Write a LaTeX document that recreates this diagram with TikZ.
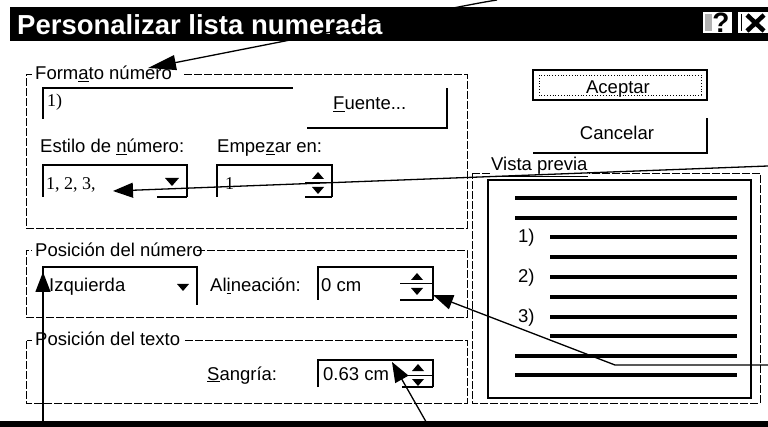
\documentclass[tikz,border=0pt]{standalone}
\usepackage{fontspec}
\setmainfont{Liberation Sans}
\newfontfamily\serf{Liberation Serif}
\usetikzlibrary{arrows.meta}
\newcommand{\mn}[1]{\underline{#1}}
\tikzset{
  grp/.style={draw, line width=0.9pt, dash pattern=on 8pt off 2pt},
  lbl/.style={font=\fontsize{18.5}{20}\selectfont, anchor=base west, inner sep=0pt},
  fld/.style={font=\serf\fontsize{18}{20}\selectfont, anchor=base west, inner sep=0pt},
  edge3d/.style={line width=1.8pt},
  ptr/.style={line width=1.3pt, -{Triangle[length=20pt,width=15pt]}},
  pline/.style={line width=4pt},
  tri/.style={fill=black}
}
\begin{document}
\begin{tikzpicture}[x=1pt,y=-1pt]
\useasboundingbox (0,0) rectangle (768,427);
\fill[white] (0,0) rectangle (768,427);
% title bar
\fill[black] (10,7) rectangle (768,41);
\node[anchor=base west, inner sep=0pt, text=white, font=\bfseries\fontsize{27.5}{30}\selectfont] (title) at (17,35) {Personalizar lista numerada};
\fill[white] (703,12) rectangle (732,33);
\fill[gray!60] (705,14) rectangle (712,31);
\node[inner sep=0pt, font=\bfseries\fontsize{28}{30}\selectfont] (help) at (721,23) {?};
\fill[white] (738,12) rectangle (768,33);
\draw[line width=4.5pt] (747,15) -- (764,31) (764,15) -- (747,31);
\draw[line width=1pt] (741,14) -- (741,31);
% Formato numero group
\node[lbl] (fmt) at (35,80) {Form\mn{a}to número};
\draw[grp] (184,74) -- (467,74) -- (467,228) -- (26,228) -- (26,74) -- (32,74);
\draw[edge3d] (43,119) -- (43,88) -- (293,88);
\node[fld] (f1) at (47,107) {1)};
\draw[edge3d] (307,128) -- (447,128) -- (447,88);
\node[lbl] (fuente) at (333,110) {\mn{F}uente...};
\node[lbl] (estilo) at (40,153) {Estilo de \mn{n}úmero:};
\node[lbl] (empez) at (217,153) {Empe\mn{z}ar en:};
\draw[edge3d] (43,197) -- (43,165) -- (187,165) -- (187,197);
\draw[edge3d] (157,197) -- (187,197);
\fill[tri] (165,178) -- (179,178) -- (172,186) -- cycle;
\node[fld] (style123) at (46,190) {1, 2, 3,};
\draw[edge3d] (217,197) -- (217,165) -- (332,165) -- (332,197);
\draw[edge3d] (305,197) -- (332,197);
\draw[line width=1pt] (305,183) -- (332,183);
\fill[tri] (312,179) -- (324,179) -- (318,172) -- cycle;
\fill[tri] (312,187) -- (324,187) -- (318,194) -- cycle;
\node[fld] (start1) at (225,190) {1};
% Posicion del numero group
\node[lbl] (posnum) at (35,257) {Posición del número};
\draw[grp] (197,250) -- (467,250) -- (467,317) -- (26,317) -- (26,250) -- (32,250);
\draw[edge3d] (43,305) -- (43,267) -- (197,267) -- (197,305);
\fill[tri] (177,284) -- (189,284) -- (183,291) -- cycle;
\node[lbl] (izq) at (49,292) {Izquierda};
\node[lbl] (alin) at (210,292) {Al\mn{i}neación:};
\draw[edge3d] (318,300) -- (318,267) -- (433,267) -- (433,300);
\draw[edge3d] (400,300) -- (433,300);
\draw[line width=1pt] (400,284) -- (433,284);
\fill[tri] (411,280) -- (423,280) -- (417,273) -- cycle;
\fill[tri] (411,288) -- (423,288) -- (417,295) -- cycle;
\node[lbl] (zero) at (321,292) {0 cm};
% Posicion del texto group
\node[lbl] (postxt) at (35,345) {Posición del texto};
\draw[grp] (185,340) -- (467,340) -- (467,403) -- (26,403) -- (26,340) -- (32,340);
\node[lbl] (sang) at (207,380) {\mn{S}angría:};
\draw[edge3d] (318,387) -- (318,360) -- (433,360) -- (433,387);
\draw[edge3d] (402,387) -- (433,387);
\draw[line width=1pt] (402,375) -- (433,375);
\fill[tri] (412,371) -- (424,371) -- (418,364) -- cycle;
\fill[tri] (412,379) -- (424,379) -- (418,386) -- cycle;
\node[lbl] (sval) at (323,380) {0.63 cm};
% buttons
\draw[line width=2.5pt] (533,70) rectangle (707,100);
\draw[line width=0.8pt, dotted] (539,75) rectangle (701,95);
\node[lbl, anchor=base] (acep) at (618,94) {Aceptar};
\draw[line width=2.5pt] (533,153) -- (707,153) -- (707,118);
\node[lbl, anchor=base] (canc) at (617,140) {Cancelar};
% Vista previa group
\draw[grp] (472,173) -- (760,173) -- (760,403) -- (472,403) -- cycle;
\node[lbl, fill=white, inner xsep=1pt] (vista) at (490,171) {\mn{Vista previa}};
\draw[line width=2pt] (488,180) rectangle (751,398);
\foreach \yy in {198,218,356,375} \draw[pline] (515,\yy) -- (737,\yy);
\foreach \yy in {237,257,277,297,317,336} \draw[pline] (550,\yy) -- (737,\yy);
\node[lbl, anchor=west] (p1) at (518,238) {1)};
\node[lbl, anchor=west] (p2) at (518,278) {2)};
\node[lbl, anchor=west] (p3) at (518,318) {3)};
% bottom band
\fill[black] (0,421) rectangle (768,427);
% pointer coordinates
\coordinate (aS) at (497,0);   \coordinate (aT) at (148,68);
\coordinate (bS) at (768,166); \coordinate (bT) at (113,191);
\coordinate (cS) at (43,427);  \coordinate (cT) at (43,272);
\coordinate (dS) at (429,427); \coordinate (dT) at (392,362);
\coordinate (eS) at (768,365); \coordinate (eK) at (615,365); \coordinate (eT) at (433,295);
\draw[ptr, -{Triangle[length=28pt,width=15pt]}] (aS) .. controls (478,3) .. (aT);
\draw[ptr] (bS) -- (bT);
\draw[ptr] (cS) -- (cT);
\draw[ptr] (dS) -- (dT);
\draw[ptr] (eS) -- (eK) -- (eT);
\end{tikzpicture}
\end{document}
